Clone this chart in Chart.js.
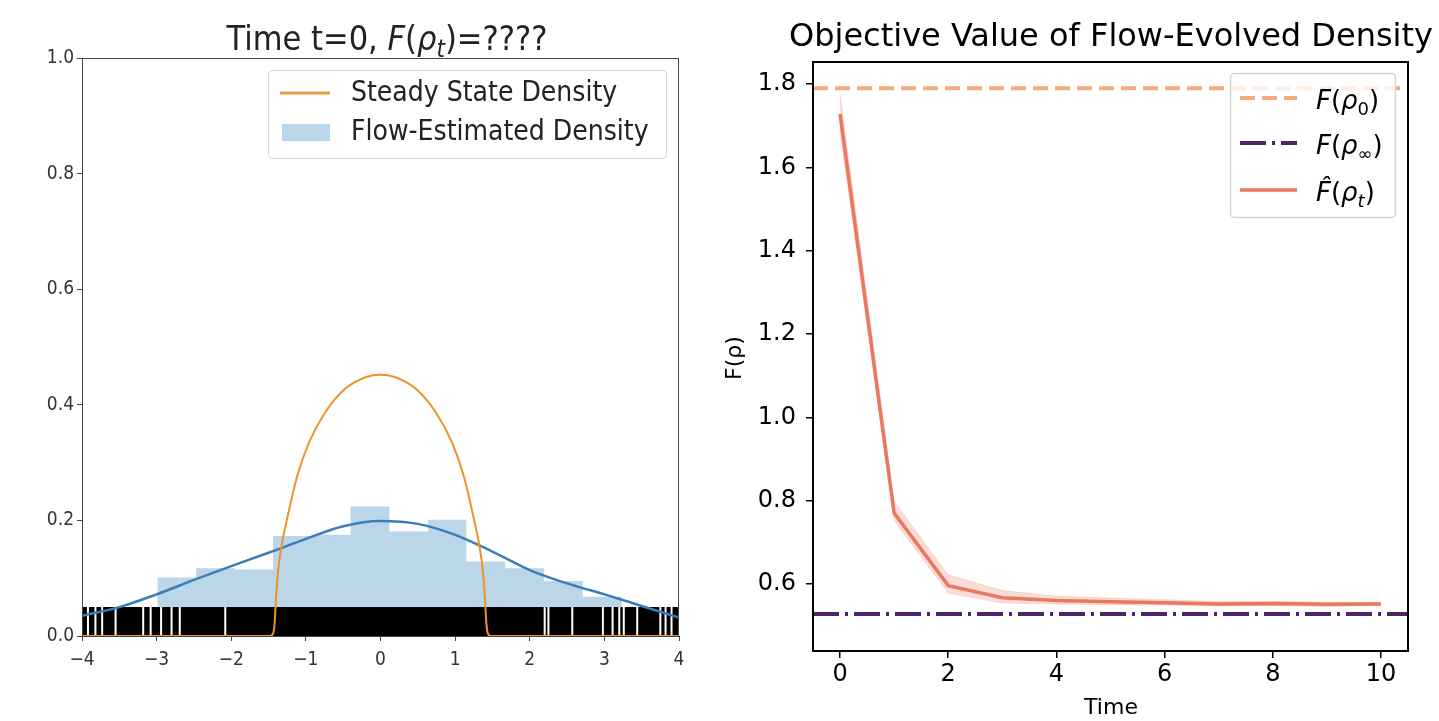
<!DOCTYPE html>
<html>
<head>
<meta charset="utf-8">
<script src="https://cdn.jsdelivr.net/npm/chart.js@4.4.1/dist/chart.umd.min.js"></script>
<style>
    html, body { margin: 0; padding: 0; background: #fff; overflow: hidden; }
    #wrap { position: relative; width: 1439px; height: 721px; }
    canvas { position: absolute; top: 0; }
    #left { left: 0; }
    #right { left: 700px; }
</style>
</head>
<body>
<div id="wrap">
    <canvas id="left" width="700" height="721"></canvas>
    <canvas id="right" width="739" height="721"></canvas>
</div>
<script>
// ---- left panel data ----
const leftXTicks = [-4, -3, -2, -1, 0, 1, 2, 3, 4];
const leftYTicks = [0, 0.2, 0.4, 0.6, 0.8, 1.0];
const histEdges = [-2.99, -2.47, -1.95, -1.44, -0.92, -0.40, 0.12, 0.64, 1.15, 1.67, 2.19, 2.71, 3.23, 3.74];
const histHeights = [0.101, 0.117, 0.115, 0.173, 0.175, 0.224, 0.181, 0.201, 0.129, 0.117, 0.095, 0.068, 0.050];
const kdeX = [-4, -3.5, -3, -2.5, -2, -1.5, -1, -0.5, 0, 0.5, 1, 1.5, 2, 2.5, 3, 3.5, 4];
const kdeY = [0.035, 0.050, 0.072, 0.097, 0.121, 0.144, 0.168, 0.190, 0.199, 0.194, 0.175, 0.146, 0.114, 0.091, 0.072, 0.052, 0.032];
const steadyX = [-4, -1.48, -1.44, -1.42, -1.40, -1.37, -1.32, -1.23, -1.12, -0.96, -0.74, -0.47, -0.19, 0, 0.19, 0.47, 0.74, 0.96, 1.12, 1.23, 1.32, 1.37, 1.40, 1.42, 1.44, 1.48, 4];
const steadyY = [0, 0, 0.004, 0.02, 0.065, 0.115, 0.16, 0.215, 0.275, 0.334, 0.387, 0.428, 0.448, 0.452, 0.448, 0.428, 0.387, 0.334, 0.275, 0.215, 0.16, 0.115, 0.065, 0.02, 0.004, 0, 0];
const rugSpan = [-4, 4];
const rugHeight = 0.05;
const rugGaps = [-3.92, -3.82, -3.73, -3.55, -3.18, -3.08, -2.94, -2.80, -2.69, -2.08,
                 2.20, 2.25, 2.57, 2.98, 3.11, 3.20, 3.26, 3.44, 3.75, 3.82, 3.90];

// ---- right panel data ----
const times = [0, 1, 2, 3, 4, 5, 6, 7, 8, 9, 10];
const fMean = [1.728, 0.770, 0.596, 0.567, 0.560, 0.557, 0.555, 0.552, 0.553, 0.551, 0.552];
const fUpper = [1.776, 0.798, 0.622, 0.584, 0.571, 0.566, 0.562, 0.558, 0.558, 0.556, 0.556];
const fLower = [1.690, 0.752, 0.578, 0.554, 0.552, 0.550, 0.549, 0.547, 0.548, 0.546, 0.548];
const fInit = 1.79;
const fInf = 0.528;
const rightXTicks = [0, 2, 4, 6, 8, 10];
const rightYTicks = [0.6, 0.8, 1.0, 1.2, 1.4, 1.6, 1.8];

const condensed = '"DejaVu Sans Condensed", "DejaVu Sans", sans-serif';
const dejavu = '"DejaVu Sans", sans-serif';

// draw text made of pieces: [text, flags] where flags may contain 'i' (italic) and 's' (subscript)
function fontFor(p, size, family) {
    const sub = p[1].indexOf('s') >= 0;
    return (p[1].indexOf('i') >= 0 ? 'italic ' : '') + (sub ? Math.round(size * 0.7) : size) + 'px ' + family;
}
function drawRich(ctx, parts, x, y, size, family, align) {
    ctx.textAlign = 'left';
    ctx.textBaseline = 'alphabetic';
    const widths = parts.map(function(p) {
        ctx.font = fontFor(p, size, family);
        return ctx.measureText(p[0]).width;
    });
    const total = widths.reduce(function(a, b) { return a + b; }, 0);
    let cx = align === 'center' ? x - total / 2 : x;
    parts.forEach(function(p, i) {
        ctx.font = fontFor(p, size, family);
        const dy = p[1].indexOf('s') >= 0 ? size * 0.22 : 0;
        ctx.fillText(p[0], cx, y + dy);
        cx += widths[i];
    });
}
function roundBox(ctx, x, y, w, h, r) {
    ctx.beginPath();
    ctx.moveTo(x + r, y);
    ctx.lineTo(x + w - r, y);
    ctx.arcTo(x + w, y, x + w, y + r, r);
    ctx.lineTo(x + w, y + h - r);
    ctx.arcTo(x + w, y + h, x + w - r, y + h, r);
    ctx.lineTo(x + r, y + h);
    ctx.arcTo(x, y + h, x, y + h - r, r);
    ctx.lineTo(x, y + r);
    ctx.arcTo(x, y, x + r, y, r);
    ctx.closePath();
}
function minusFmt(v) {
    return v < 0 ? '\u2212' + Math.abs(v) : String(v);
}

// ---------------- left chart ----------------
const histPoints = histEdges.map(function(e, i) {
    return { x: e, y: i < histHeights.length ? histHeights[i] : 0 };
});
const rugGapPoints = [];
rugGaps.forEach(function(g) {
    rugGapPoints.push({ x: g, y: 0 }, { x: g, y: rugHeight }, { x: g, y: null });
});

const leftDecor = {
    id: 'leftDecor',
    afterDraw: function(chart) {
        const ctx = chart.ctx;
        const a = chart.chartArea;
        ctx.save();
        // frame
        ctx.strokeStyle = '#444';
        ctx.lineWidth = 1;
        ctx.strokeRect(a.left + 0.5, a.top + 0.5, a.right - a.left - 1, a.bottom - a.top);
        // title
        ctx.fillStyle = '#222';
        drawRich(ctx, [['Time t=0, ', ''], ['F', 'i'], ['(', ''], ['\u03c1', 'i'], ['t', 'is'], [')=????', '']],
            387, 50, 34, condensed, 'center');
        // legend
        roundBox(ctx, 268.5, 70.5, 398, 88, 4);
        ctx.fillStyle = 'rgba(255,255,255,0.8)';
        ctx.fill();
        ctx.strokeStyle = '#d5d5d5';
        ctx.stroke();
        ctx.strokeStyle = '#eb9a45';
        ctx.lineWidth = 3;
        ctx.beginPath();
        ctx.moveTo(280, 93);
        ctx.lineTo(330, 93);
        ctx.stroke();
        ctx.fillStyle = 'rgba(31,119,180,0.3)';
        ctx.fillRect(282, 124, 48, 17);
        ctx.fillStyle = '#222';
        ctx.font = '28px ' + condensed;
        ctx.textBaseline = 'middle';
        ctx.fillText('Steady State Density', 351, 94);
        ctx.fillText('Flow-Estimated Density', 351, 133);
        ctx.restore();
    }
};

new Chart(document.getElementById('left'), {
    type: 'line',
    data: {
        datasets: [
            {
                label: 'Flow-Estimated Density',
                data: histPoints,
                stepped: true,
                fill: 'origin',
                backgroundColor: 'rgba(31,119,180,0.3)',
                borderColor: 'rgba(0,0,0,0)',
                borderWidth: 0,
                pointRadius: 0,
                order: 4
            },
            {
                label: 'rug',
                data: [{ x: rugSpan[0], y: rugHeight }, { x: rugSpan[1], y: rugHeight }],
                fill: 'origin',
                backgroundColor: '#000',
                borderColor: 'rgba(0,0,0,0)',
                borderWidth: 0,
                pointRadius: 0,
                order: 3
            },
            {
                label: 'rug gaps',
                data: rugGapPoints,
                spanGaps: false,
                fill: false,
                borderColor: '#fff',
                borderWidth: 2,
                pointRadius: 0,
                order: 2.5
            },
            {
                label: 'kde',
                data: kdeX.map(function(x, i) { return { x: x, y: kdeY[i] }; }),
                fill: false,
                borderColor: '#3a7db9',
                borderWidth: 2.5,
                cubicInterpolationMode: 'monotone',
                pointRadius: 0,
                order: 2
            },
            {
                label: 'Steady State Density',
                data: steadyX.map(function(x, i) { return { x: x, y: steadyY[i] }; }),
                fill: false,
                borderColor: '#f0922a',
                borderWidth: 2,
                cubicInterpolationMode: 'monotone',
                pointRadius: 0,
                order: 1
            }
        ]
    },
    options: {
        responsive: false,
        animation: false,
        layout: { padding: { left: 0, right: 21, top: 58, bottom: 0 } },
        plugins: { legend: { display: false }, tooltip: { enabled: false } },
        scales: {
            x: {
                type: 'linear',
                min: -4,
                max: 4,
                afterBuildTicks: function(axis) { axis.ticks = leftXTicks.map(function(v) { return { value: v }; }); },
                afterFit: function(s) { s.height = 85; },
                ticks: {
                    callback: function(v) { return minusFmt(v); },
                    font: { size: 19, family: condensed },
                    color: '#333',
                    padding: 8,
                    maxRotation: 0,
                    autoSkip: false
                },
                grid: { drawOnChartArea: false, tickLength: 5, tickColor: '#444' },
                border: { color: '#444', width: 1 }
            },
            y: {
                min: 0,
                max: 1,
                afterBuildTicks: function(axis) { axis.ticks = leftYTicks.map(function(v) { return { value: v }; }); },
                afterFit: function(s) { s.width = 82; },
                ticks: {
                    callback: function(v) { return v.toFixed(1); },
                    font: { size: 19, family: condensed },
                    color: '#333',
                    padding: 3
                },
                grid: { drawOnChartArea: false, tickLength: 5, tickColor: '#444' },
                border: { color: '#444', width: 1 }
            }
        }
    },
    plugins: [leftDecor]
});

// ---------------- right chart ----------------
const rightDecor = {
    id: 'rightDecor',
    afterDraw: function(chart) {
        const ctx = chart.ctx;
        const a = chart.chartArea;
        ctx.save();
        ctx.strokeStyle = '#000';
        ctx.lineWidth = 2;
        ctx.strokeRect(a.left, a.top, a.right - a.left, a.bottom - a.top);
        // title and axis labels
        ctx.fillStyle = '#000';
        ctx.font = '32px ' + dejavu;
        ctx.textAlign = 'center';
        ctx.textBaseline = 'alphabetic';
        ctx.fillText('Objective Value of Flow-Evolved Density', 411, 46);
        ctx.font = '22px ' + dejavu;
        ctx.fillText('Time', 411, 714);
        ctx.save();
        ctx.translate(41, 358);
        ctx.rotate(-Math.PI / 2);
        ctx.fillText('F(\u03c1)', 0, 0);
        ctx.restore();
        // legend
        roundBox(ctx, 530.5, 73.5, 165, 144, 4);
        ctx.fillStyle = 'rgba(255,255,255,0.8)';
        ctx.fill();
        ctx.strokeStyle = '#d5d5d5';
        ctx.lineWidth = 1.5;
        ctx.stroke();
        const ds = chart.data.datasets;
        const items = [
            { d: ds[0], y: 98, parts: [['F', 'i'], ['(', ''], ['\u03c1', 'i'], ['0', 's'], [')', '']] },
            { d: ds[1], y: 143, parts: [['F', 'i'], ['(', ''], ['\u03c1', 'i'], ['\u221e', 's'], [')', '']] },
            { d: ds[2], y: 190, parts: [['F\u0302', 'i'], ['(', ''], ['\u03c1', 'i'], ['t', 'is'], [')', '']] }
        ];
        items.forEach(function(it) {
            ctx.strokeStyle = it.d.borderColor;
            ctx.lineWidth = it.d.borderWidth;
            ctx.setLineDash(it.d.borderDash || []);
            ctx.beginPath();
            ctx.moveTo(540, it.y);
            ctx.lineTo(597, it.y);
            ctx.stroke();
            ctx.setLineDash([]);
            ctx.fillStyle = '#000';
            drawRich(ctx, it.parts, 616, it.y + 11, 26, dejavu, 'left');
        });
        ctx.restore();
    }
};

new Chart(document.getElementById('right'), {
    type: 'line',
    data: {
        datasets: [
            {
                label: 'F(rho_0)',
                data: [{ x: -0.5, y: fInit }, { x: 10.5, y: fInit }],
                borderColor: '#f1ab7c',
                borderWidth: 4,
                borderDash: [15, 7],
                pointRadius: 0,
                fill: false,
                order: 2
            },
            {
                label: 'F(rho_inf)',
                data: [{ x: -0.5, y: fInf }, { x: 10.5, y: fInf }],
                borderColor: '#4e2468',
                borderWidth: 4,
                borderDash: [26, 6, 3, 6],
                pointRadius: 0,
                fill: false,
                order: 2
            },
            {
                label: 'F hat(rho_t)',
                data: times.map(function(t, i) { return { x: t, y: fMean[i] }; }),
                borderColor: '#e9785f',
                borderWidth: 3.5,
                pointRadius: 0,
                fill: false,
                order: 1
            },
            {
                label: 'upper',
                data: times.map(function(t, i) { return { x: t, y: fUpper[i] }; }),
                borderColor: 'rgba(233,120,95,0.2)',
                borderWidth: 1,
                pointRadius: 0,
                fill: '+1',
                backgroundColor: 'rgba(233,120,95,0.25)',
                order: 3
            },
            {
                label: 'lower',
                data: times.map(function(t, i) { return { x: t, y: fLower[i] }; }),
                borderColor: 'rgba(233,120,95,0.2)',
                borderWidth: 1,
                pointRadius: 0,
                fill: false,
                order: 3
            }
        ]
    },
    options: {
        responsive: false,
        animation: false,
        layout: { padding: { left: 0, right: 31, top: 62, bottom: 0 } },
        plugins: { legend: { display: false }, tooltip: { enabled: false } },
        scales: {
            x: {
                type: 'linear',
                min: -0.5,
                max: 10.5,
                afterBuildTicks: function(axis) { axis.ticks = rightXTicks.map(function(v) { return { value: v }; }); },
                afterFit: function(s) { s.height = 70; },
                ticks: {
                    font: { size: 24, family: dejavu },
                    color: '#000',
                    padding: 2,
                    maxRotation: 0,
                    autoSkip: false
                },
                grid: { drawOnChartArea: false, tickLength: 7, tickColor: '#000', lineWidth: 1.5 },
                border: { color: '#000', width: 2 }
            },
            y: {
                min: 0.439,
                max: 1.853,
                afterBuildTicks: function(axis) { axis.ticks = rightYTicks.map(function(v) { return { value: v }; }); },
                afterFit: function(s) { s.width = 113; },
                ticks: {
                    callback: function(v) { return v.toFixed(1); },
                    font: { size: 24, family: dejavu },
                    color: '#000',
                    padding: 10
                },
                grid: { drawOnChartArea: false, tickLength: 7, tickColor: '#000', lineWidth: 1.5 },
                border: { color: '#000', width: 2 }
            }
        }
    },
    plugins: [rightDecor]
});
</script>
</body>
</html>
